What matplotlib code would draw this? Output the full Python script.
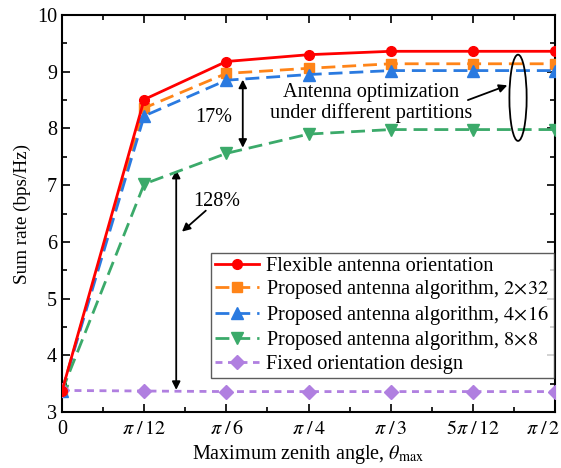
import numpy as np
import matplotlib
matplotlib.use("Agg")
import matplotlib.pyplot as plt
import matplotlib.transforms as mtrans
from matplotlib.patches import Ellipse
from matplotlib.ticker import MultipleLocator

plt.rcParams['font.family'] = ['Liberation Serif', 'DejaVu Serif']
plt.rcParams['mathtext.fontset'] = 'stix'

x_steps = [0, 1, 2, 3, 4, 5, 6]  # multiples of pi/12
x_labels = ['0', r'$\pi\;/\,12$', r'$\pi\;/\,6$', r'$\pi\;/\,4$', r'$\pi\;/\,3$', r'$5\pi\;/\,12$', r'$\pi\;/\,2$']

flexible = [3.37, 8.51, 9.18, 9.30, 9.36, 9.36, 9.36]
prop_2x32 = [3.37, 8.36, 8.97, 9.06, 9.14, 9.14, 9.14]
prop_4x16 = [3.37, 8.22, 8.85, 8.95, 9.02, 9.02, 9.02]
prop_8x8 = [3.37, 7.02, 7.56, 7.90, 7.98, 7.98, 7.98]
fixed = [3.38, 3.37, 3.36, 3.36, 3.36, 3.36, 3.36]

labels = ['Flexible antenna orientation',
          r'Proposed antenna algorithm, $2\!\times\!32$',
          r'Proposed antenna algorithm, $4\!\times\!16$',
          r'Proposed antenna algorithm, $8\!\times\!8$',
          'Fixed orientation design']

fig = plt.figure(figsize=(5.61, 4.68), dpi=100)
ax = fig.add_axes([62/561, 1-412/468, (555-62)/561, (412-15)/468])

x = np.array(x_steps) * np.pi / 12

ax.plot(x, flexible, color='#FF0000', lw=2, marker='o', ms=7, label=labels[0], zorder=5)
ax.plot(x, prop_2x32, color='#FF8418', lw=2, ls=(0, (5, 2.5)), marker='s', ms=7, label=labels[1], zorder=4)
ax.plot(x, prop_4x16, color='#2A7AE0', lw=2, ls=(0, (5, 2.5)), marker='^', ms=8, label=labels[2], zorder=4)
ax.plot(x, prop_8x8, color='#3BAA6A', lw=2, ls=(0, (5, 2.5)), marker='v', ms=8, label=labels[3], zorder=4)
ax.plot(x, fixed, color='#B07FE0', lw=2, ls=(0, (2.5, 2)), marker='D', ms=7, label=labels[4], zorder=4)

ax.set_xlim(0, np.pi / 2)
ax.set_ylim(3, 10)
ax.set_xticks(x)
ax.set_xticklabels(x_labels, fontsize=14.5)
ax.xaxis.set_minor_locator(MultipleLocator(np.pi / 24))
ax.yaxis.set_major_locator(MultipleLocator(1))
ax.yaxis.set_minor_locator(MultipleLocator(0.5))
ax.tick_params(axis='both', which='both', direction='in', top=True, right=True, labelsize=14.5)
ax.tick_params(which='major', length=6, width=1.2)
ax.tick_params(which='minor', length=3.5, width=1.2)
ax.tick_params(axis='x', pad=6)
for s in ax.spines.values():
    s.set_linewidth(1.5)

# last tick label kept inside the figure, as in the reference
last = ax.get_xticklabels()[-1]
last.set_horizontalalignment('right')
last.set_transform(last.get_transform() + mtrans.ScaledTranslation(5/100, 0, fig.dpi_scale_trans))

ax.set_xlabel(r'Maximum zenith angle, $\theta_{\mathrm{max}}$', fontsize=14.5, labelpad=3)
ax.set_ylabel('Sum rate (bps/Hz)', fontsize=13.8)

leg = ax.legend(loc='lower right', bbox_to_anchor=(0.997, 0.086), fontsize=14.6, frameon=True,
                fancybox=False, edgecolor='#333333', handlelength=2.2, borderpad=0.2,
                labelspacing=0.12, handletextpad=0.35, borderaxespad=0.0)
leg.get_frame().set_linewidth(1.0)

u = np.pi / 12
arr = dict(arrowstyle='<|-|>', color='black', lw=1.3, mutation_scale=12, shrinkA=0, shrinkB=0)
# 17%
ax.annotate('', xy=(2.20 * u, 7.66), xytext=(2.20 * u, 8.86), arrowprops=arr)
ax.text(1.85 * u, 8.2, '17%', fontsize=14.5, ha='center', va='center')
# 128%
ax.annotate('', xy=(1.39 * u, 3.39), xytext=(1.39 * u, 7.27), arrowprops=arr)
ax.text(1.88 * u, 6.72, '128%', fontsize=14.5, ha='center', va='center')
ax.annotate('', xy=(1.46 * u, 6.18), xytext=(1.75 * u, 6.55),
            arrowprops=dict(arrowstyle='-|>', color='black', lw=1.3, mutation_scale=12, shrinkA=0, shrinkB=0))

# ellipse and note
ax.add_patch(Ellipse((5.55 * u, 8.54), width=0.21 * u, height=1.52, fill=False, lw=1.3, color='black', zorder=6))
ax.text(3.76 * u, 8.45, 'Antenna optimization\nunder different partitions', fontsize=14.6,
        ha='center', va='center', linespacing=1.05)
ax.annotate('', xy=(5.42 * u, 8.76), xytext=(4.94 * u, 8.50),
            arrowprops=dict(arrowstyle='-|>', color='black', lw=1.3, mutation_scale=12, shrinkA=0, shrinkB=0))

fig.savefig('out.png', dpi=100)
